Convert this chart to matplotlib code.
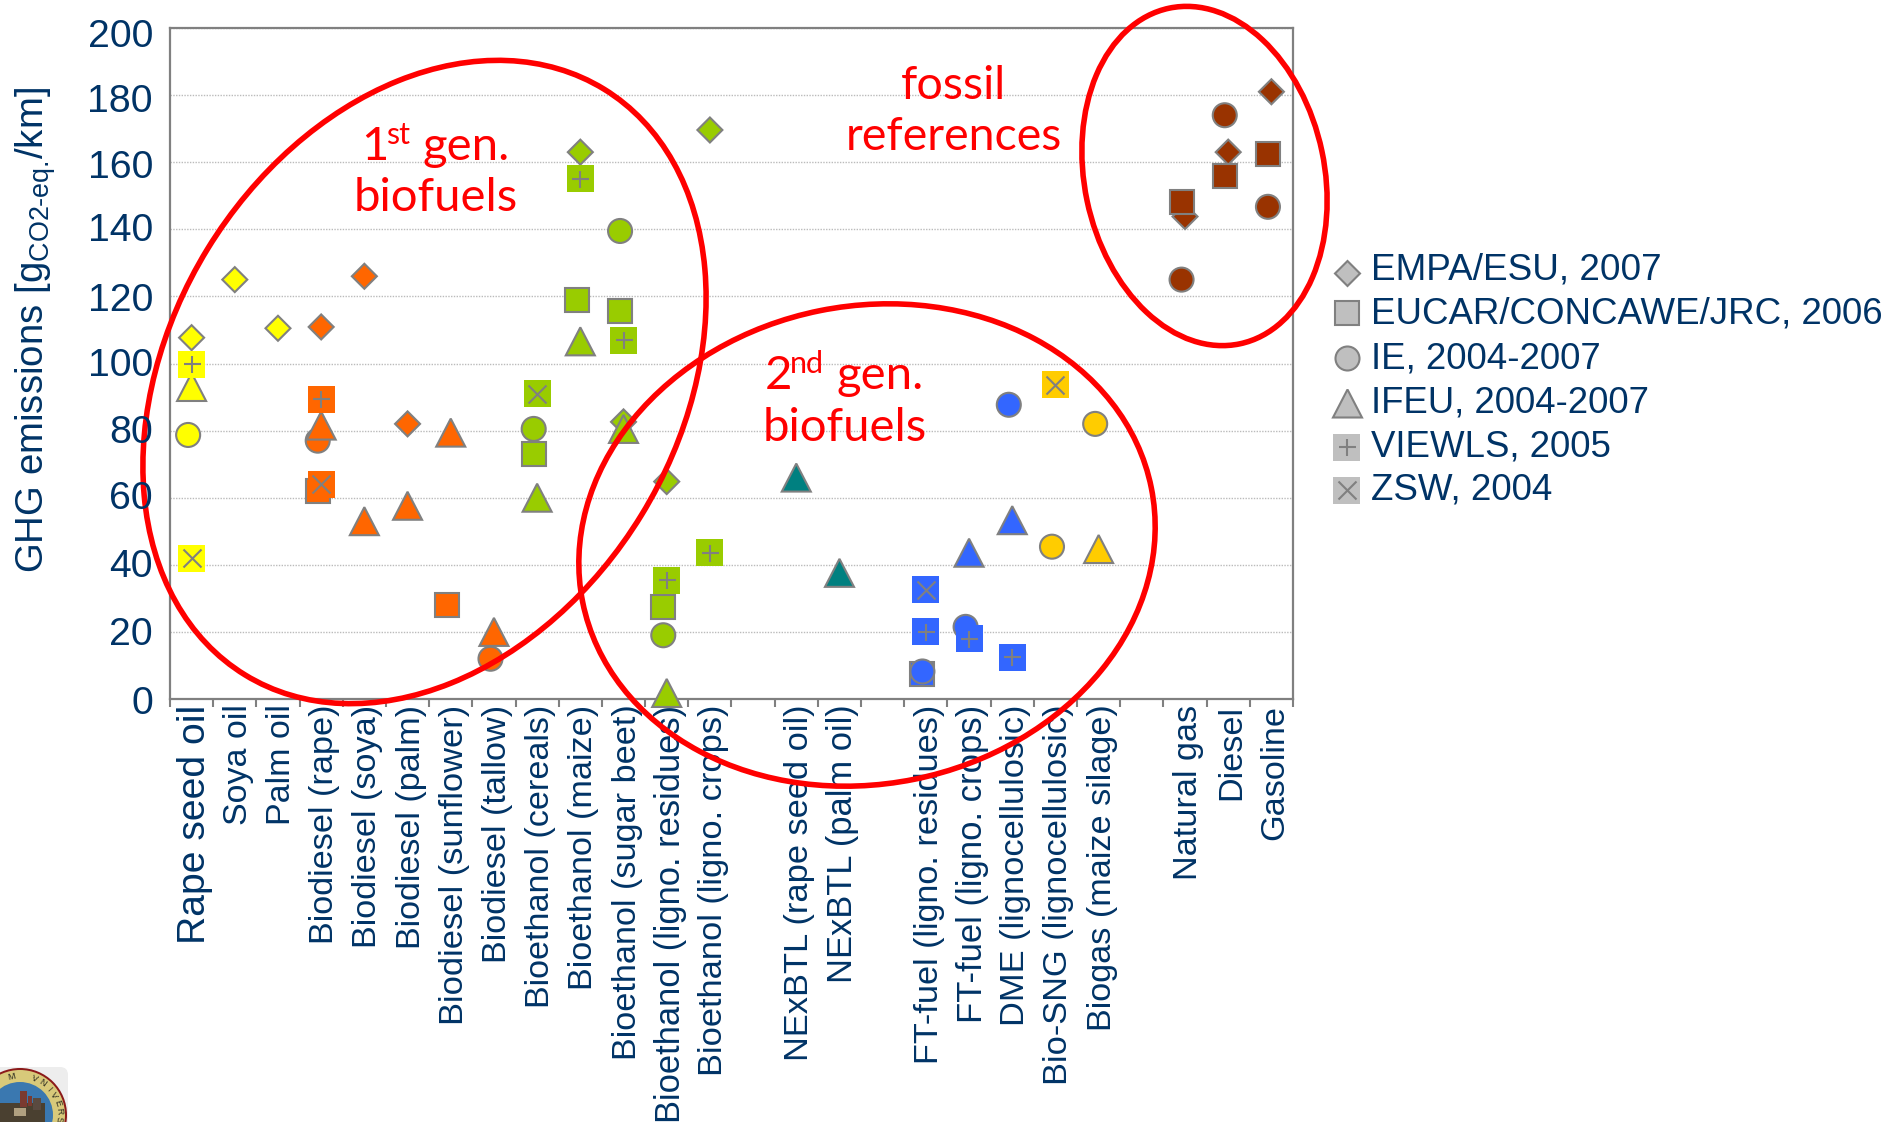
#!/usr/bin/env python
import numpy as np
import matplotlib
matplotlib.use("Agg")
import matplotlib.pyplot as plt
from matplotlib.markers import MarkerStyle
from matplotlib.patches import Ellipse, FancyBboxPatch, Circle, Rectangle
from matplotlib.transforms import Affine2D, ScaledTranslation

plt.rcParams["font.family"] = ["Liberation Sans", "DejaVu Sans"]
plt.rcParams["mathtext.fontset"] = "custom"
plt.rcParams["mathtext.rm"] = "Liberation Sans"

n = np.nan

categories = ["Rape seed oil", "Soya oil", "Palm oil", "Biodiesel (rape)", "Biodiesel (soya)",
              "Biodiesel (palm)", "Biodiesel (sunflower)", "Biodiesel (tallow)",
              "Bioethanol (cereals)", "Bioethanol (maize)", "Bioethanol (sugar beet)",
              "Bioethanol (ligno. residues)", "Bioethanol (ligno. crops)", "",
              "NExBTL (rape seed oil)", "NExBTL (palm oil)", "",
              "FT-fuel (ligno. residues)", "FT-fuel (ligno. crops)", "DME (lignocellulosic)",
              "Bio-SNG (lignocellulosic)", "Biogas (maize silage)", "",
              "Natural gas", "Diesel", "Gasoline"]

empa = [107.7, 125, 110.5, 110.9, 126, 82, n, n, n, 163, 82.6, 64.8, 169.6,
        n, n, n, n, n, n, n, n, n, n, 143.8, 163, 181]
eucar = [n, n, n, 62, n, n, 28, n, 73, 119, 115.5, 27.5, n,
         n, n, n, n, 7.5, n, n, n, n, n, 148, 156, 162.4]
ie = [78.7, n, n, 77, n, n, n, 12, 80.5, n, 139.5, 19, n,
      n, n, n, n, 8.2, 21.5, 87.7, 45.4, 82, n, 125, 174, 146.7]
ifeu = [93, n, n, 81.5, 53, 57.6, 79.4, 20, 60, 106.6, 80.5, 1.8, n,
        n, 66, 37.6, n, n, 43.6, 53.3, n, 44.7, n, n, n, n]
viewls = [99.8, n, n, 89.4, n, n, n, n, n, 155, 107, 35.4, 43.6,
          n, n, n, n, 20, 18, 12.5, n, n, n, n, n, n]
zsw = [42, n, n, 64, n, n, n, n, 91, n, n, n, n,
       n, n, n, n, 32.6, n, n, 93.7, n, n, n, n, n]

legend_labels = ["EMPA/ESU, 2007", "EUCAR/CONCAWE/JRC, 2006", "IE, 2004-2007",
                 "IFEU, 2004-2007", "VIEWLS, 2005", "ZSW, 2004"]
yticks = [0, 20, 40, 60, 80, 100, 120, 140, 160, 180, 200]

# colour of each fuel group, one per category
colors = ["#FFFF00"] * 3 + ["#FF6600"] * 5 + ["#99CC00"] * 5 + ["#FFFFFF"] + ["#008080"] * 2 + \
         ["#FFFFFF"] + ["#3366FF"] * 3 + ["#FFCC00"] * 2 + ["#FFFFFF"] + ["#993300"] * 3

# wanted length of the rotated labels, in pixels
label_len = [239, 121, 121, 240, 244, 245, 320, 259, 303, 285, 356, 418, 370, 0,
             356, 279, 0, 360, 318, 321, 380, 328, 0, 175, 95, 135]
legend_len = [291, 513, 230, 278, 240, 182]
# the y labels are placed by hand on the slide and drift off the gridlines
ylabel_px = [702, 633.5, 565.6, 497, 431.5, 364.6, 299, 229, 166, 100.6, 35.5]

GREY = "#808080"
NAVY = "#003366"
PX = 0.72


def mk(shape, w, h):
    # w and h in pixels
    return MarkerStyle(shape, transform=Affine2D().scale(w * PX, h * PX))


diamond = mk("D", 25 / 1.414, 25 / 1.414)
square = mk("s", 24, 24)
circle = mk("o", 24, 24)
triangle = mk("^", 29, 28)
box = mk("s", 27, 27)
plus = mk("+", 17, 17)
cross = mk("x", 18, 18)

fig = plt.figure(figsize=(18.83, 11.22), dpi=100)
ax = fig.add_axes([170 / 1883, 1 - 699 / 1122, 1123 / 1883, 671 / 1122])
x = np.arange(len(categories)) + 0.5


def draw(values, marker, dx=0.0, z=3, edge=GREY, overlay=None):
    vals = np.array(values)
    ok = ~np.isnan(vals)
    cols = [c for c, k in zip(colors, ok) if k]
    ax.scatter(x[ok] + dx, vals[ok], s=1, marker=marker, c=cols, edgecolors=edge,
               linewidths=1.5, zorder=z, clip_on=False, joinstyle="miter")
    if overlay is not None:
        ax.scatter(x[ok] + dx, vals[ok], s=1, marker=overlay, c=GREY, linewidths=1.5,
                   zorder=z, clip_on=False)


draw(empa, diamond, z=3)
draw(eucar, square, dx=-0.08, z=4)
draw(ie, circle, dx=-0.08, z=5)
draw(ifeu, triangle, z=6)
draw(viewls, box, z=7, edge="none", overlay=plus)
draw(zsw, box, z=8, edge="none", overlay=cross)

ax.set_xlim(0, len(categories))
ax.set_ylim(0, 200)
ax.set_yticks(yticks)
ax.tick_params(axis="y", length=0, labelleft=False)
ax.yaxis.grid(True, color="#BBBBBB", linewidth=1, linestyle=(0, (1, 1)))
ax.set_axisbelow(True)
for side in ax.spines:
    ax.spines[side].set_color(GREY)
    ax.spines[side].set_linewidth(1.6)

ax.set_xticks(np.arange(len(categories) + 1))
ax.set_xticklabels([])
ax.tick_params(axis="x", which="major", length=6, width=1.5, color=GREY)
ax.set_xticks(x, minor=True)
ax.set_xticklabels(categories, minor=True, rotation=90, color=NAVY, fontsize=20, va="top", ha="center")
ax.tick_params(axis="x", which="minor", length=0, pad=4)

# fit the labels to their measured length
rend = fig.canvas.get_renderer()
shift = ScaledTranslation(3.5 / 100, 0, fig.dpi_scale_trans)
for t, want in zip(ax.get_xticklabels(minor=True), label_len):
    if want:
        have = t.get_window_extent(rend).height
        t.set_fontsize(t.get_fontsize() * want / have)
    t.set_transform(t.get_transform() + shift)

# overlay in pixel coordinates for the hand drawn parts of the slide
ov = fig.add_axes([0, 0, 1, 1], zorder=10)
ov.set_xlim(0, 1883)
ov.set_ylim(1122, 0)
ov.axis("off")
ov.patch.set_alpha(0)

for v, py in zip(yticks, ylabel_px):
    ov.text(153, py + 11.5, str(v), ha="right", va="baseline", fontsize=28.3, color=NAVY)

ov.add_patch(Ellipse((424.5, 382), 687, 509, angle=-58.5, fill=False, ec="#FF0000", lw=4))
ov.add_patch(Ellipse((867, 545), 580, 478, angle=-11.4, fill=False, ec="#FF0000", lw=4))
ov.add_patch(Ellipse((1204.5, 176), 343, 240, angle=-101.9, fill=False, ec="#FF0000", lw=4))


def red(px, py, s, size=34):
    ov.text(px, py, s, color="#FF0000", fontsize=size, family="Lato", ha="left", va="baseline")


red(361, 160, "1")
red(386, 144, "st", 22)
red(423, 160, "gen.")
red(354, 211, "biofuels")
red(901, 99, "fossil", 33.5)
red(846, 150, "references", 33.5)
red(765, 389, "2")
red(790, 373, "nd", 22)
red(837, 389, "gen.")
red(763, 441, "biofuels")

ov.text(36, 573, r"GHG emissions [g$_{\text{CO2-eq.}}$/km]", rotation=90, color=NAVY,
        fontsize=27.6, ha="center", va="bottom")

# legend, drawn by hand to keep the slide's spacing
leg_y = [273, 313, 358, 403, 447, 490]
text_y = [279, 323, 368, 412, 456, 499]
leg_marks = [diamond, square, circle, triangle, box, box]
leg_over = [None, None, None, None, plus, cross]
for i, lab in enumerate(legend_labels):
    edge = "none" if leg_over[i] is not None else GREY
    ov.scatter([1347], [leg_y[i]], s=1, marker=leg_marks[i], c="#BFBFBF", edgecolors=edge,
               linewidths=1.5, joinstyle="miter")
    if leg_over[i] is not None:
        ov.scatter([1347], [leg_y[i]], s=1, marker=leg_over[i], c=GREY, linewidths=1.5)
    t = ov.text(1371, text_y[i], lab, color=NAVY, fontsize=24, ha="left", va="baseline")
    t.set_fontsize(24 * legend_len[i] / t.get_window_extent(rend).width)

# university seal in the bottom corner
ov.add_patch(FancyBboxPatch((-20, 1067), 88, 80, boxstyle="round,pad=0,rounding_size=8", fc="#EDEDED", ec="none"))
ov.add_patch(Circle((20, 1115), 47, fc="#8B1A1A", ec="none"))
ov.add_patch(Circle((20, 1115), 45, fc="#D8C97A", ec="none"))
ov.add_patch(Circle((20, 1115), 33, fc="#3A78B0", ec="none"))
ov.add_patch(Rectangle((-5, 1103), 50, 20, fc="#4A4030", ec="none"))
ov.add_patch(Rectangle((20, 1091), 7, 16, fc="#7A3A30", ec="none"))
ov.add_patch(Rectangle((28, 1096), 4, 10, fc="#7A3A30", ec="none"))
ov.add_patch(Rectangle((33, 1098), 8, 12, fc="#5A4A40", ec="none"))
ov.add_patch(Rectangle((14, 1108), 12, 8, fc="#B0A080", ec="none"))
for ch, ang in zip("MVNIVERS", [12, -22, -35, -48, -60, -72, -84, -96]):
    a = np.deg2rad(ang)
    ov.text(20 - 39 * np.sin(a), 1115 - 39 * np.cos(a), ch, rotation=ang, fontsize=6.5,
            color="#2A2A20", ha="center", va="center")

fig.savefig("out.png", dpi=100)
